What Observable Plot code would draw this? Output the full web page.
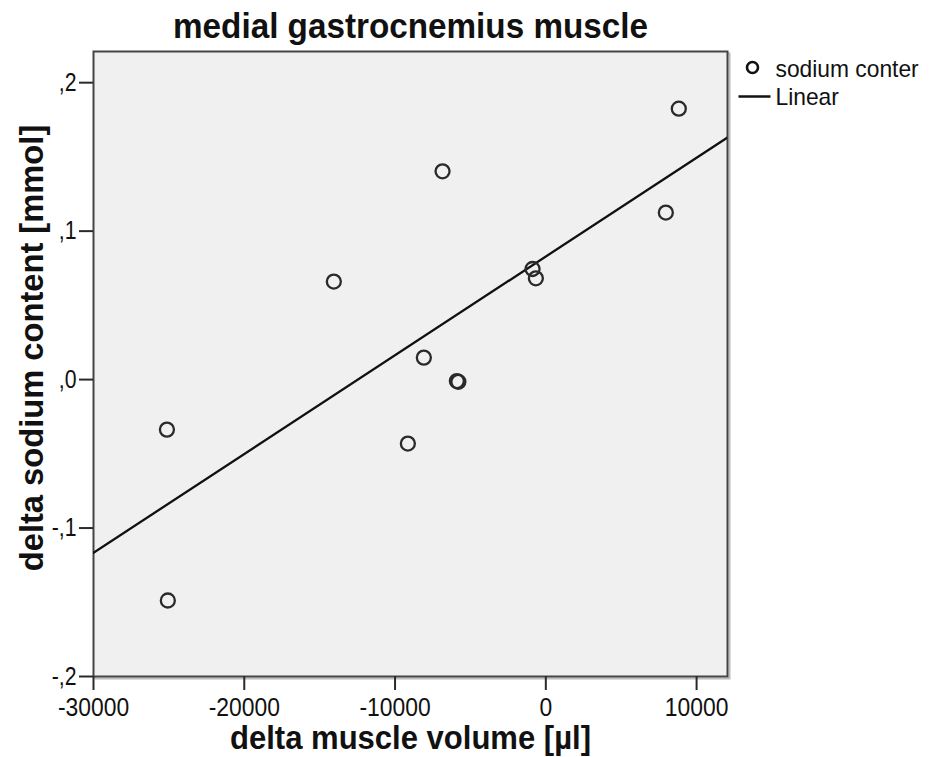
<!DOCTYPE html>
<html><head><meta charset="utf-8">
<script src="https://cdn.jsdelivr.net/npm/d3@7"></script>
<script src="https://cdn.jsdelivr.net/npm/@observablehq/plot@0.6"></script>
<style>
body{margin:0;background:#fff;}
#chart svg{font-family:"Liberation Sans",Arial,sans-serif;}
</style></head><body><div id="chart"></div>
<script>
const title = "medial gastrocnemius muscle";
const xLabel = "delta muscle volume [µl]";
const yLabel = "delta sodium content [mmol]";
const seriesName = "sodium conter";
const fitName = "Linear";
const volume = [-25130, -25070, -14060, -6850, -8090, -9150, -5900, -5800, -880, -660, 7960, 8820];
const sodium = [-0.0337, -0.1488, 0.066, 0.1403, 0.0148, -0.0431, -0.001, -0.0015, 0.0745, 0.0682, 0.1125, 0.1825];
const xTicks = [-30000, -20000, -10000, 0, 10000];
const xTickLabels = ["-30000", "-20000", "-10000", "0", "10000"];
const yTicks = [0.2, 0.1, 0, -0.1, -0.2];
const yTickLabels = [",2", ",1", ",0", "-,1", "-,2"];
const xDomain = [-30000, 12050];
const yDomain = [-0.2, 0.221];

const points = volume.map((v, i) => ({x: v, y: sodium[i]}));
const mx = d3.mean(volume), my = d3.mean(sodium);
const slope = d3.sum(points, p => (p.x - mx) * (p.y - my)) / d3.sum(points, p => (p.x - mx) ** 2);
const icpt = my - slope * mx;
const fit = xDomain.map(x => ({x, y: icpt + slope * x}));

const hline = {draw(ctx) { ctx.moveTo(-16, 0); ctx.lineTo(16, 0); }};
const ink = "#2a2a2a";

const chart = Plot.plot({
  width: 933, height: 757,
  marginLeft: 93, marginRight: 206, marginTop: 51, marginBottom: 81,
  x: {domain: xDomain},
  y: {domain: yDomain},
  marks: [
    Plot.frame({stroke: "#bbb", strokeWidth: 2, dx: 2, dy: 2}),
    Plot.frame({fill: "#f0f0f0", stroke: "#444", strokeWidth: 2}),
    Plot.axisX(xTicks, {tickSize: 14, tickPadding: 7, fontSize: 26, stroke: ink, strokeWidth: 2, fill: "#111",
      tickFormat: d => xTickLabels[xTicks.indexOf(d)], label: null}),
    Plot.axisY(yTicks, {tickSize: 14, tickPadding: 3, fontSize: 25, stroke: ink, strokeWidth: 2, fill: "#111",
      tickFormat: d => yTickLabels[yTicks.indexOf(d)], label: null}),
    Plot.line(fit, {x: "x", y: "y", stroke: "#111", strokeWidth: 2.3, clip: true}),
    Plot.dot(points, {x: "x", y: "y", r: 7, stroke: ink, strokeWidth: 2.3, fill: "none"}),
    Plot.text([title], {frameAnchor: "top", dy: -25, lineAnchor: "middle", textAnchor: "middle", fontSize: 35, fontWeight: "bold", fill: "#111"}),
    Plot.text([xLabel], {frameAnchor: "bottom", dy: 62, lineAnchor: "middle", textAnchor: "middle", fontSize: 33, fontWeight: "bold", fill: "#111"}),
    Plot.text([yLabel], {frameAnchor: "left", dx: -61, dy: -16, lineAnchor: "middle", textAnchor: "middle", rotate: -90, fontSize: 33, fontWeight: "bold", fill: "#111"}),
    Plot.dot([seriesName], {frameAnchor: "top-right", dx: 25, dy: 16, r: 5.5, stroke: "#111", strokeWidth: 2.6, fill: "none"}),
    Plot.text([seriesName], {frameAnchor: "top-right", dx: 48, dy: 18, lineAnchor: "middle", textAnchor: "start", fontSize: 24, fill: "#111"}),
    Plot.dot([fitName], {frameAnchor: "top-right", dx: 27, dy: 45, symbol: hline, stroke: "#111", strokeWidth: 2.6}),
    Plot.text([fitName], {frameAnchor: "top-right", dx: 48, dy: 46, lineAnchor: "middle", textAnchor: "start", fontSize: 24, fill: "#111"})
  ]
});
document.getElementById("chart").appendChild(chart);

// horizontal condensing of the text, as in the reference
const squeeze = new Map([[title, 0.95], [xLabel, 0.94], [yLabel, 0.99], [seriesName, 0.95], [fitName, 0.95]]);
xTickLabels.forEach(s => squeeze.set(s, 0.88));
yTickLabels.forEach(s => squeeze.set(s, 0.85));
chart.querySelectorAll("text").forEach(t => {
  const s = squeeze.get(t.textContent.trim());
  if (!s) return;
  const len = t.getComputedTextLength();
  if (!(len > 0)) return;
  t.setAttribute("textLength", (len * s).toFixed(2));
  t.setAttribute("lengthAdjust", "spacingAndGlyphs");
});
</script></body></html>
